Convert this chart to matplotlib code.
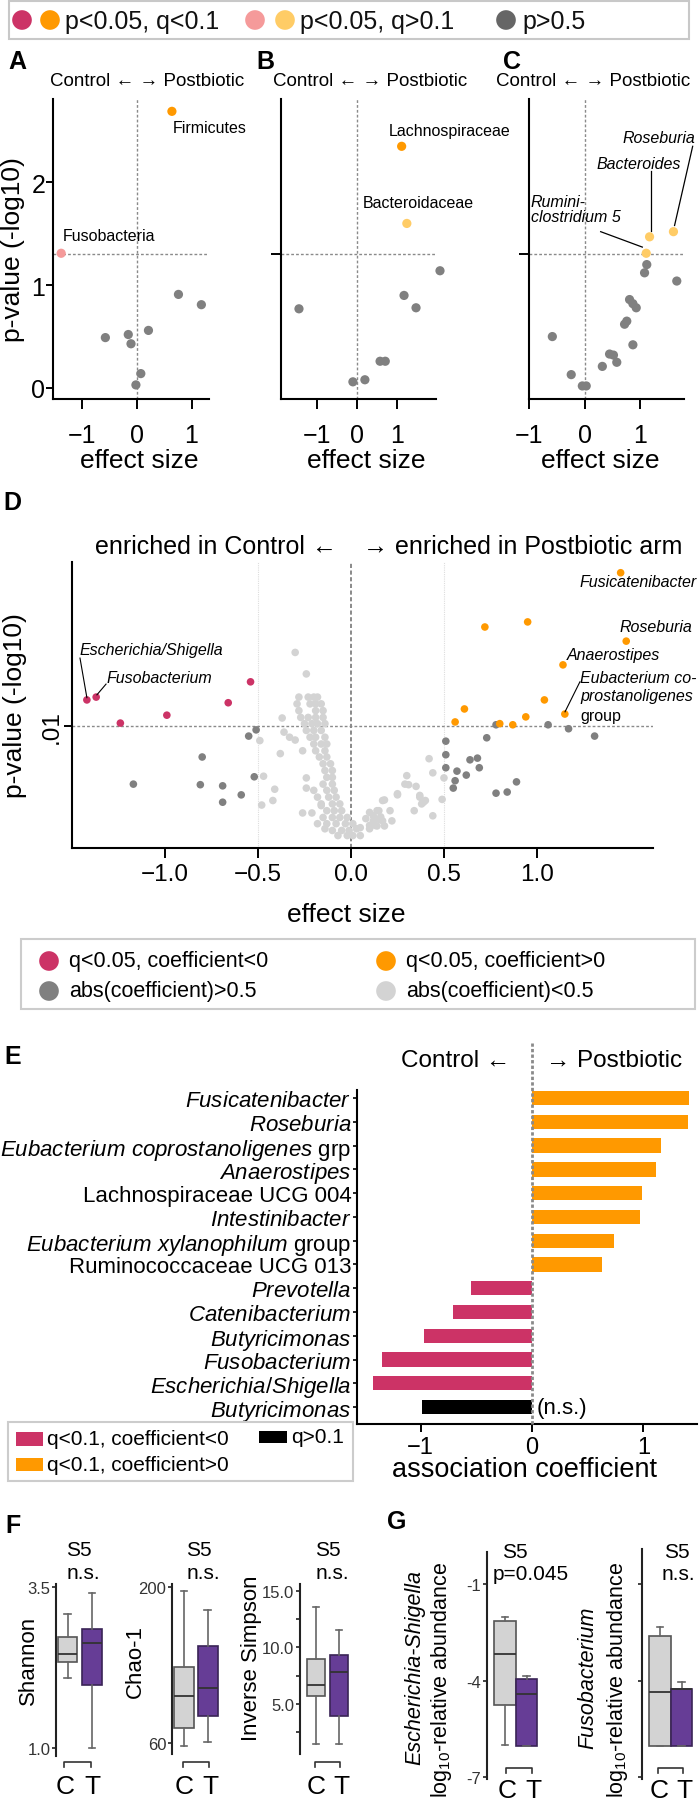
import matplotlib
matplotlib.use("Agg")
import matplotlib.pyplot as plt
from matplotlib.patches import Rectangle

W, H = 699, 1806
plt.rcParams["font.family"] = ["Liberation Sans", "DejaVu Sans"]
plt.rcParams["mathtext.fontset"] = "custom"
plt.rcParams["mathtext.rm"] = "Liberation Sans"
plt.rcParams["mathtext.it"] = "Liberation Sans:italic"
plt.rcParams["axes.linewidth"] = 1.5

CRIMSON = "#cc3366"; ORANGE = "#ff9900"; PINK = "#f59a9a"; LORANGE = "#ffcc66"
DGRAY = "#808080"; LGRAY = "#d3d3d3"; PURPLE = "#663d96"; BOXC = "#d3d3d3"
REF = "#8a8a8a"; INK = "#111111"

# ---------------- data ----------------
# A: phylum, B: family, C: genus  (effect size, -log10 p, class q/p/n)
a_effect = [0.64, -1.39, 0.76, 1.18, -0.58, -0.16, -0.11, 0.21, 0.07, -0.02]
a_logp = [2.69, 1.31, 0.91, 0.81, 0.49, 0.52, 0.43, 0.56, 0.14, 0.03]
a_class = ["q", "p", "n", "n", "n", "n", "n", "n", "n", "n"]

b_effect = [1.12, 1.25, 2.08, 1.18, 1.48, -1.45, 0.58, 0.71, -0.10, 0.20]
b_logp = [2.35, 1.60, 1.14, 0.90, 0.78, 0.77, 0.26, 0.26, 0.06, 0.08]
b_class = ["q", "p", "n", "n", "n", "n", "n", "n", "n", "n"]

c_effect = [1.60, 1.17, 1.11, 1.12, 1.08, 1.66, 0.81, 0.87, 0.93, 0.76, 0.72, -0.58,
            0.87, 0.45, 0.52, 0.58, 0.32, -0.24, -0.04, 0.03]
c_logp = [1.52, 1.47, 1.31, 1.20, 1.12, 1.04, 0.86, 0.82, 0.78, 0.65, 0.62, 0.50,
          0.42, 0.33, 0.32, 0.25, 0.21, 0.13, 0.02, 0.02]
c_class = ["p", "p", "p"] + ["n"] * 17

# D: genus-level volcano (effect size, -log10 p)
d_sig = [(-1.42, 2.46), (-1.37, 2.51), (-1.24, 2.05), (-0.99, 2.19), (-0.66, 2.41), (-0.54, 2.78),
         (1.45, 4.71), (0.72, 3.75), (0.95, 3.84), (1.48, 3.50), (1.14, 3.08), (1.04, 2.46),
         (0.61, 2.30), (1.15, 2.21), (0.56, 2.07), (0.80, 2.04), (0.87, 2.02), (0.94, 2.16)]
d_big = [(0.78, 2.02), (1.06, 2.02), (1.17, 1.95), (1.31, 1.82), (0.73, 1.79), (0.51, 1.73),
         (0.51, 1.49), (0.64, 1.40), (0.68, 1.43), (0.51, 1.26), (0.57, 1.20), (0.69, 1.26),
         (0.62, 1.13), (0.56, 1.03), (0.55, 0.90), (0.78, 0.81), (0.84, 0.83), (0.89, 1.01),
         (-0.51, 1.93), (-0.55, 1.82), (-0.80, 1.45), (-1.17, 0.97), (-0.81, 0.96), (-0.69, 0.94),
         (-0.69, 0.65), (-0.59, 0.78), (-0.52, 1.10)]
d_small = [(-0.30, 3.30), (-0.24, 2.92), (-0.37, 2.14), (-0.49, 1.74), (-0.38, 1.51), (-0.36, 1.89),
           (-0.33, 1.80), (-0.30, 1.75), (-0.26, 1.56), (-0.47, 1.11), (-0.41, 0.88), (-0.42, 0.68),
           (-0.48, 0.60), (-0.24, 1.08), (-0.24, 0.90), (-0.26, 0.46), (-0.21, 0.46), (-0.16, 0.59),
           (-0.28, 2.51), (-0.23, 2.51), (-0.20, 2.51), (-0.18, 2.51), (-0.29, 2.39), (-0.22, 2.39),
           (-0.19, 2.39), (-0.16, 2.39), (-0.28, 2.27), (-0.19, 2.27), (-0.15, 2.27), (-0.27, 2.15),
           (-0.23, 2.15), (-0.19, 2.15), (-0.15, 2.15), (-0.25, 2.04), (-0.21, 2.04), (-0.18, 2.04),
           (-0.14, 2.04), (-0.24, 1.92), (-0.20, 1.92), (-0.16, 1.92), (-0.22, 1.80), (-0.19, 1.80),
           (-0.14, 1.80), (-0.20, 1.68), (-0.16, 1.68), (-0.13, 1.68), (-0.19, 1.56), (-0.14, 1.56),
           (-0.17, 1.45), (-0.13, 1.45), (-0.15, 1.33), (-0.11, 1.33), (-0.14, 1.21), (-0.10, 1.21),
           (-0.13, 1.09), (-0.10, 1.09), (-0.15, 0.97), (-0.10, 0.97), (-0.20, 0.86), (-0.13, 0.86),
           (-0.09, 0.86), (-0.18, 0.74), (-0.12, 0.74), (-0.08, 0.74), (-0.16, 0.62), (-0.10, 0.62),
           (-0.06, 0.62), (-0.13, 0.50), (-0.09, 0.50), (-0.05, 0.50), (-0.15, 0.38), (-0.10, 0.38),
           (-0.06, 0.38), (-0.02, 0.38), (-0.18, 0.27), (-0.13, 0.27), (-0.08, 0.27), (-0.03, 0.27),
           (-0.14, 0.18), (-0.10, 0.15), (-0.05, 0.15), (-0.01, 0.15), (-0.07, 0.06), (-0.02, 0.06),
           (0.01, 0.06), (0.03, 0.18), (0.01, 0.27), (0.05, 0.06), (0.05, 0.20), (0.10, 0.24),
           (0.12, 0.41), (0.15, 0.50), (0.17, 0.32), (0.18, 0.69), (0.10, 0.47), (0.15, 0.35),
           (0.22, 0.32), (0.13, 0.24), (0.17, 0.68), (0.25, 0.80), (0.29, 0.97), (0.37, 0.77),
           (0.38, 0.62), (0.40, 0.68), (0.34, 0.50), (0.44, 0.41), (0.49, 0.70), (0.42, 1.42),
           (0.44, 1.17), (0.50, 1.08), (0.30, 1.12), (0.31, 0.96), (0.35, 0.93), (0.25, 0.78),
           (0.37, 0.74), (0.39, 0.65), (0.14, 0.50), (0.16, 0.39), (0.12, 0.32), (0.18, 0.23),
           (0.14, 0.23), (0.10, 0.18), (0.21, 0.50), (0.08, 0.36)]

# E: association coefficients
e_labels = [r"$\it{Fusicatenibacter}$", r"$\it{Roseburia}$",
            r"$\it{Eubacterium\ coprostanoligenes}$ grp", r"$\it{Anaerostipes}$",
            "Lachnospiraceae UCG 004", r"$\it{Intestinibacter}$",
            r"$\it{Eubacterium\ xylanophilum}$ group", "Ruminococcaceae UCG 013",
            r"$\it{Prevotella}$", r"$\it{Catenibacterium}$", r"$\it{Butyricimonas}$",
            r"$\it{Fusobacterium}$", r"$\it{Escherichia/Shigella}$", r"$\it{Butyricimonas}$"]
e_coef = [1.41, 1.40, 1.16, 1.11, 0.99, 0.97, 0.735, 0.63, -0.55, -0.71, -0.97, -1.35, -1.43, -0.99]
e_q_sig = [True] * 13 + [False]

# F, G: box stats (whislo, q1, med, q3, whishi) for C and T
f_shannon = {"C": (2.09, 2.335, 2.46, 2.72, 3.08), "T": (1.0, 1.98, 2.63, 2.85, 3.41)}
f_chao = {"C": (57, 73.5, 102, 128, 196), "T": (61, 84, 109, 147, 179)}
f_invsimp = {"C": (1.46, 5.7, 6.7, 9.0, 13.6), "T": (1.46, 3.95, 7.85, 9.35, 11.5)}
g_esch = {"C": (-6.0, -4.75, -3.16, -2.14, -2.02), "T": (-6.02, -6.02, -4.43, -3.94, -3.85)}
g_fuso = {"C": (-6.02, -6.02, -4.37, -2.63, -2.32), "T": (-6.02, -6.02, -4.25, -4.25, -4.03)}

# ---------------- figure ----------------
fig = plt.figure(figsize=(W / 100, H / 100), dpi=100)


def px_ax(x0, y0, x1, y1):
    ax = fig.add_axes([x0 / W, 1 - y1 / H, (x1 - x0) / W, (y1 - y0) / H])
    ax.patch.set_alpha(0)
    return ax


def label_at(ax, box, which, text, xpx, ypx, **kw):
    x0, y0, x1, y1 = box
    fx, fy = (xpx - x0) / (x1 - x0), (y1 - ypx) / (y1 - y0)
    axis = ax.xaxis if which == "x" else ax.yaxis
    (ax.set_xlabel if which == "x" else ax.set_ylabel)(text, **kw)
    axis.set_label_coords(fx, fy)
    axis.label.set_va("center")


def col3(cls, x):
    if cls == "q":
        return CRIMSON if x < 0 else ORANGE
    if cls == "p":
        return PINK if x < 0 else LORANGE
    return DGRAY


ov = fig.add_axes([0, 0, 1, 1], zorder=10)
ov.set_xlim(0, W); ov.set_ylim(H, 0); ov.axis("off")

# ---- top legend ----
ov.add_patch(Rectangle((9, 2), 680, 38, facecolor="white", edgecolor="#c8c8c8", lw=1.5))
for x, c in [(22, CRIMSON), (50, ORANGE), (255, PINK), (285, LORANGE), (506, "#666666")]:
    ov.scatter([x], [21], s=200, color=c, edgecolors="none")
for x, t in [(65, "p<0.05, q<0.1"), (300, "p<0.05, q>0.1"), (522, "p>0.5")]:
    ov.text(x, 22, t, ha="left", va="center", fontsize=18, color=INK)

# ---- panel letters ----
for t, x, y in [("A", 8, 62), ("B", 256, 62), ("C", 503, 62), ("D", 3, 503),
                ("E", 4, 1057), ("F", 5, 1526), ("G", 387, 1522)]:
    ov.text(x, y, t, ha="left", va="center", fontsize=18, fontweight="bold", color="black")

# ---- panels A-C ----
small = [(a_effect, a_logp, a_class, (53, 100, 209, 400), (-1.54, 1.32), 147, 139),
         (b_effect, b_logp, b_class, (281, 100, 436, 400), (-1.90, 1.98), 370, 366),
         (c_effect, c_logp, c_class, (529, 100, 684, 400), (-1.00, 1.79), 593, 600)]
small_axes = []
for i, (ex, lp, cl, box, xl, hx, lx) in enumerate(small):
    ax = px_ax(*box)
    ax.set_xlim(*xl); ax.set_ylim(-0.107, 2.81)
    ax.axvline(0, color=REF, lw=1, ls=(0, (2, 1.5)), zorder=1)
    ax.axhline(1.3, color=REF, lw=1, ls=(0, (2, 1.5)), zorder=1)
    ax.scatter(ex, lp, s=44, c=[col3(k, x) for k, x in zip(cl, ex)], edgecolors="none",
               zorder=3, clip_on=False)
    for s in ("top", "right"):
        ax.spines[s].set_visible(False)
    ax.set_xticks([-1, 0, 1]); ax.set_xticklabels(["\u22121", "0", "1"])
    ax.tick_params(axis="x", length=7, width=1.4, pad=10, labelsize=18)
    if i == 0:
        ax.set_yticks([0, 1, 2])
        ax.tick_params(axis="y", length=5, width=1.4, pad=0.5, labelsize=18)
        label_at(ax, box, "y", "p-value (-log10)", 13, 250, fontsize=19)
    else:
        ax.set_yticks([1.3]); ax.set_yticklabels([""])
        ax.tick_params(axis="y", length=7, width=1.4)
    label_at(ax, box, "x", "effect size", lx, 461, fontsize=19)
    ov.text(hx, 82, "Control \u2190 \u2192 Postbiotic", ha="center", va="center", fontsize=13.5)
    small_axes.append(ax)

axA, axB, axC = small_axes
axA.text(0.66, 2.53, "Firmicutes", fontsize=11.5, va="center", ha="left")
axA.text(-1.37, 1.48, "Fusobacteria", fontsize=11.5, va="center", ha="left")
axB.text(0.80, 2.50, "Lachnospiraceae", fontsize=11.5, va="center", ha="left")
axB.text(0.15, 1.80, "Bacteroidaceae", fontsize=11.5, va="center", ha="left")
axC.text(2.0, 2.44, "Roseburia", fontsize=11.5, style="italic", va="center", ha="right")
axC.text(1.73, 2.18, "Bacteroides", fontsize=11.5, style="italic", va="center", ha="right")
axC.text(-0.97, 1.74, "Rumini-\nclostridium 5", fontsize=11.5, style="italic", va="center",
         ha="left", linespacing=1.05)
for (x1, y1), (x2, y2) in [((1.946, 2.35), (1.62, 1.58)), ((1.19, 2.11), (1.19, 1.53)),
                           ((0.29, 1.52), (1.04, 1.37))]:
    axC.plot([x1, x2], [y1, y2], color="black", lw=0.9, clip_on=False, zorder=2)

# ---- panel D ----
dbox = (72, 563, 653, 849)
axd = px_ax(*dbox)
axd.set_xlim(-1.5, 1.624); axd.set_ylim(-0.16, 4.9)
for xv in (-0.5, 0.5):
    axd.axvline(xv, color="#dddddd", lw=0.8, ls=(0, (1, 1)), zorder=0)
axd.axvline(0, color="#777777", lw=1.2, ls=(0, (2.5, 1.5)), zorder=1)
axd.axhline(2, color=REF, lw=1, ls=(0, (2, 1.5)), zorder=1)
axd.scatter([p[0] for p in d_small], [p[1] for p in d_small], s=30, color=LGRAY,
            edgecolors="none", zorder=2)
axd.scatter([p[0] for p in d_big], [p[1] for p in d_big], s=30, color=DGRAY,
            edgecolors="none", zorder=3)
axd.scatter([p[0] for p in d_sig], [p[1] for p in d_sig], s=30,
            c=[col3("q", p[0]) for p in d_sig], edgecolors="none", zorder=4, clip_on=False)
for s in ("top", "right"):
    axd.spines[s].set_visible(False)
axd.set_xticks([-1.0, -0.5, 0.0, 0.5, 1.0])
axd.set_xticklabels(["\u22121.0", "\u22120.5", "0.0", "0.5", "1.0"])
axd.tick_params(axis="x", length=7, width=1.4, pad=4, labelsize=17.5)
axd.set_yticks([2]); axd.set_yticklabels([".01"], rotation=90, va="center")
axd.tick_params(axis="y", length=6, width=1.4, pad=1, labelsize=17.5)
label_at(axd, dbox, "x", "effect size", 346, 915, fontsize=19)
label_at(axd, dbox, "y", "p-value (-log10)", 15, 706, fontsize=19)
ov.text(337, 547, "enriched in Control \u2190", ha="right", va="center", fontsize=18)
ov.text(363, 547, "\u2192 enriched in Postbiotic arm", ha="left", va="center", fontsize=18)

lab = dict(fontsize=11.5, style="italic", va="center", ha="left")
axd.text(-1.462, 3.35, "Escherichia/Shigella", **lab)
axd.text(-1.317, 2.86, "Fusobacterium", **lab)
axd.text(1.231, 4.55, "Fusicatenibacter", **lab)
axd.text(1.446, 3.75, "Roseburia", **lab)
axd.text(1.161, 3.26, "Anaerostipes", **lab)
axd.text(1.231, 2.85, "Eubacterium co-", **lab)
axd.text(1.231, 2.53, "prostanoligenes", **lab)
axd.text(1.231, 2.18, "group", fontsize=11.5, va="center", ha="left")
for (x1, y1), (x2, y2) in [((-1.457, 3.20), (-1.42, 2.50)), ((-1.317, 2.74), (-1.366, 2.55)),
                           ((1.231, 2.78), (1.151, 2.25))]:
    axd.plot([x1, x2], [y1, y2], color="black", lw=0.8, clip_on=False, zorder=5)

# D legend
ov.add_patch(Rectangle((21, 940), 674, 70, facecolor="white", edgecolor="#cccccc", lw=1.5))
for x, y, c, t in [(49, 962, CRIMSON, "q<0.05, coefficient<0"), (49, 992, DGRAY, "abs(coefficient)>0.5"),
                   (386, 962, ORANGE, "q<0.05, coefficient>0"), (386, 992, LGRAY, "abs(coefficient)<0.5")]:
    ov.scatter([x], [y], s=200, color=c, edgecolors="none")
    ov.text(x + 20, y, t, ha="left", va="center", fontsize=15.5)

# ---- panel E ----
ebox = (357, 1091, 697, 1425)
axe = px_ax(*ebox)
ypos = list(range(len(e_labels)))
ecol = [("black" if not q else (CRIMSON if v < 0 else ORANGE)) for v, q in zip(e_coef, e_q_sig)]
axe.barh(ypos, e_coef, height=0.6, color=ecol, zorder=2)
axe.set_xlim(-1.57, 1.48); axe.set_ylim(13.71, -0.34)
axe.axvline(0, ymin=0, ymax=1 + 47 / 334, color="#8a8a8a", lw=2, ls=(0, (1.2, 0.8)),
            clip_on=False, zorder=3)
for s in ("top", "right"):
    axe.spines[s].set_visible(False)
axe.set_yticks(ypos); axe.set_yticklabels(e_labels)
axe.tick_params(axis="y", length=3, width=1.2, pad=1, labelsize=16)
axe.set_xticks([-1, 0, 1]); axe.set_xticklabels(["\u22121", "0", "1"])
axe.tick_params(axis="x", length=6, width=1.4, pad=3, labelsize=17)
label_at(axe, ebox, "x", "association coefficient", 525, 1470, fontsize=19.5)
for i, q in enumerate(e_q_sig):
    if not q:
        axe.text(0.045, i, "(n.s.)", ha="left", va="center", fontsize=16)
ov.text(510, 1061, "Control \u2190", ha="right", va="center", fontsize=17.5)
ov.text(546, 1061, "\u2192 Postbiotic", ha="left", va="center", fontsize=17.5)

# E legend
ov.add_patch(Rectangle((8, 1423), 345, 59, facecolor="white", edgecolor="#cccccc", lw=1.5))
for x, y, w, h, c, t in [(16, 1433, 27, 14, CRIMSON, "q<0.1, coefficient<0"),
                         (16, 1459, 27, 13, ORANGE, "q<0.1, coefficient>0"),
                         (259, 1432, 28, 12, "black", "q>0.1")]:
    ov.add_patch(Rectangle((x, y), w, h, facecolor=c, edgecolor="none"))
    ov.text(x + w + 4, y + h / 2, t, ha="left", va="center", fontsize=15)


# ---- panels F, G ----
def boxpanel(box, c_px, width_px, ylim, stats, yticks, yticklabels):
    x0, y0, x1, y1 = box
    ax = px_ax(*box)
    d = c_px[1] - c_px[0]
    bx = []
    for grp in ("C", "T"):
        lo, q1, med, q3, hi = stats[grp]
        bx.append(dict(whislo=lo, q1=q1, med=med, q3=q3, whishi=hi, fliers=[]))
    art = ax.bxp(bx, positions=[1, 2], widths=width_px / d, patch_artist=True, showfliers=False,
                 capwidths=0.32 * width_px / d, manage_ticks=False,
                 whiskerprops=dict(color="#666666", lw=1.2), capprops=dict(color="#666666", lw=1.2),
                 medianprops=dict(color="#333333", lw=1.3))
    art["boxes"][0].set(facecolor=BOXC, edgecolor="#555555", lw=1.2)
    art["boxes"][1].set(facecolor=PURPLE, edgecolor="#3a2456", lw=1.2)
    ax.set_xlim(1 + (x0 - c_px[0]) / d, 1 + (x1 - c_px[0]) / d)
    ax.set_ylim(*ylim)
    for s in ("top", "right", "bottom"):
        ax.spines[s].set_visible(False)
    ax.spines["left"].set(lw=1.5, color="#222222")
    ax.set_xticks([])
    ax.set_yticks(yticks); ax.set_yticklabels(yticklabels)
    ax.tick_params(axis="y", length=3, width=1.2, pad=1, labelsize=12, labelcolor="#333333",
                   color="#222222")
    return ax


boxpanel((56, 1585, 106, 1757), (67.5, 92), 19.5, (0.876, 3.547), f_shannon, [1.0, 3.5], ["1.0", "3.5"])
boxpanel((172, 1585, 222, 1755), (184, 207.5), 20, (50.1, 202.7), f_chao, [60, 200], ["60", "200"])
boxpanel((300, 1585, 352, 1755), (316, 339), 18, (0.58, 15.6), f_invsimp,
         [2.5, 5, 7.5, 10, 12.5, 15], ["", "5.0", "", "10.0", "", "15.0"])
boxpanel((487, 1553, 540, 1780), (505, 526.5), 21.5, (-7.06, 0.0), g_esch, [-1, -4, -7], ["-1", "-4", "-7"])
boxpanel((642, 1550, 695, 1780), (660, 681.5), 21.5, (-7.06, 0.09), g_fuso, [-1, -4, -7], ["", "", ""])

for x0, x1, yb, yt in [(64, 91, 1763, 1787), (183, 209, 1763, 1787), (315, 340, 1763, 1787),
                       (506, 532, 1769, 1791), (658, 683, 1769, 1791)]:
    ov.plot([x0, x0, x1, x1], [yb + 5, yb, yb, yb + 5], color="#333333", lw=1.2)
    ov.text(x0 + 1, yt, "C", ha="center", va="center", fontsize=19)
    ov.text(x1 + 1, yt, "T", ha="center", va="center", fontsize=19)
for x, y, t in [(79, 1551, "S5"), (83, 1574, "n.s."), (199, 1551, "S5"), (203, 1574, "n.s."),
                (328, 1551, "S5"), (332, 1574, "n.s."), (515, 1553, "S5"), (531, 1575, "p=0.045"),
                (677, 1553, "S5"), (678, 1575, "n.s.")]:
    ov.text(x, y, t, ha="center", va="center", fontsize=15)
for x, y, t in [(28, 1660, "Shannon"), (135, 1662, "Chao-1"), (252, 1658, "Inverse Simpson")]:
    ov.text(x, y, t, ha="center", va="center", rotation=90, fontsize=16)
ov.text(415, 1668, "Escherichia-Shigella", ha="center", va="center", rotation=90, fontsize=15.5,
        style="italic")
ov.text(588, 1678, "Fusobacterium", ha="center", va="center", rotation=90, fontsize=15.5,
        style="italic")
for x in (442, 617):
    ov.text(x, 1680, r"log$_{10}$-relative abundance", ha="center", va="center", rotation=90,
            fontsize=15.5)

fig.savefig("out.png", dpi=100)
